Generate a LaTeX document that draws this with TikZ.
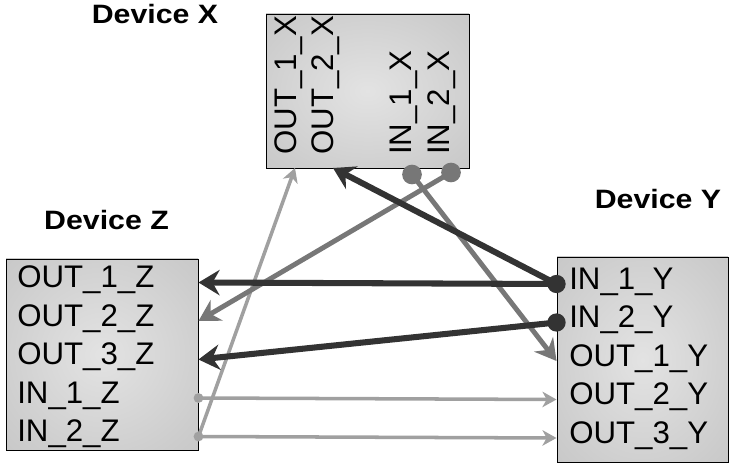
\documentclass[tikz,border=0pt]{standalone}
\usepackage{fontspec}
\setmainfont{Liberation Sans}
\newfontfamily\devfont[FakeStretch=1.14]{Liberation Sans}
\usepackage{tikz}
\usetikzlibrary{arrows.meta,positioning,calc,fit}
\definecolor{wiredark} {HTML}{333333}
\definecolor{wiremid}  {HTML}{777777}
\definecolor{wirelight}{HTML}{A0A0A0}
\pgfdeclareradialshading{devshade}{\pgfpoint{0bp}{0bp}}%
  {color(0bp)=(black!11); color(30bp)=(black!20); color(72bp)=(black!31)}

\begin{document}
\begin{tikzpicture}[x=0.025cm,y=-0.025cm,
    devbox/.style={draw=black, line width=0.7pt, shading=devshade, inner sep=0pt},
    devlabel/.style={font=\devfont\bfseries\fontsize{18.9}{22}\selectfont,
                     text height=0.716em, text depth=0pt, inner sep=0pt},
    portlabel/.style={font=\fontsize{22.2}{26}\selectfont, anchor=west,
                      text height=0.716em, text depth=0pt, inner sep=0pt},
    lightwire/.style={draw=wirelight, line width=2.5pt,
                      -{Stealth[length=10pt,width=11pt,inset=3pt]}},
    midwire/.style={draw=wiremid, line width=3.5pt,
                    -{Stealth[length=15pt,width=17pt,inset=5pt]}},
    darkwire/.style={draw=wiredark, line width=4.3pt,
                     -{Stealth[length=15pt,width=18pt,inset=5pt]}}]
  \useasboundingbox (0,0) rectangle (734,464);

  % devices
  \node[devbox, fit={(266,14) (469,168)}] (xbox) {};
  \node[devbox, fit={(6,259) (198,450)}] (zbox) {};
  \node[devbox, fit={(557,257) (728,462.5)}] (ybox) {};
  \node[devlabel] (devx) at (155,18.5) {Device X};
  \node[devlabel] (devz) at (106.5,224) {Device Z};
  \node[devlabel] (devy) at (658,203) {Device Y};

  % ports
  \foreach \nm/\txt [count=\i] in {oz1/OUT\_1\_Z, oz2/OUT\_2\_Z, oz3/OUT\_3\_Z,
                                   iz1/IN\_1\_Z, iz2/IN\_2\_Z}{
    \node[portlabel] (\nm) at (17,244+38.5*\i) {\txt};
    \coordinate (p\nm) at (zbox.east |- \nm);
  }
  \foreach \nm/\txt [count=\i] in {iy1/IN\_1\_Y, iy2/IN\_2\_Y, oy1/OUT\_1\_Y,
                                   oy2/OUT\_2\_Y, oy3/OUT\_3\_Y}{
    \node[portlabel] (\nm) at (569,245.5+38.5*\i) {\txt};
    \coordinate (p\nm) at (ybox.west |- \nm);
  }
  \foreach \nm/\txt/\px in {ox1/OUT\_1\_X/291, ox2/OUT\_2\_X/328.5,
                            ix1/IN\_1\_X/406, ix2/IN\_2\_X/444}
    \node[portlabel, rotate=90] (\nm) at (\px,155) {\txt};
  \coordinate (pox1) at (295,168);
  \coordinate (pox2) at (333,168);
  \coordinate (pix1) at (412,174.5);
  \coordinate (pix2) at (451,172.5);

  % connections
  \draw[lightwire] (piz1) -- (poy2);
  \draw[lightwire] (piz2) -- (poy3);
  \draw[lightwire] (piz2) -- (pox1);
  \draw[midwire] (pix2) -- (poz2);
  \draw[midwire] (pix1) -- (poy1);
  \draw[darkwire] (piy1) -- (poz1);
  \draw[darkwire] (piy1) -- (pox2);
  \draw[darkwire] (piy2) -- (poz3);

  \foreach \p in {piz1,piz2} \fill[wirelight] (\p) circle (3.5pt);
  \foreach \p in {pix1,pix2} \fill[wiremid] (\p) circle (7pt);
  \foreach \p in {piy1,piy2} \fill[wiredark] (\p) circle (6.5pt);
\end{tikzpicture}
\end{document}
